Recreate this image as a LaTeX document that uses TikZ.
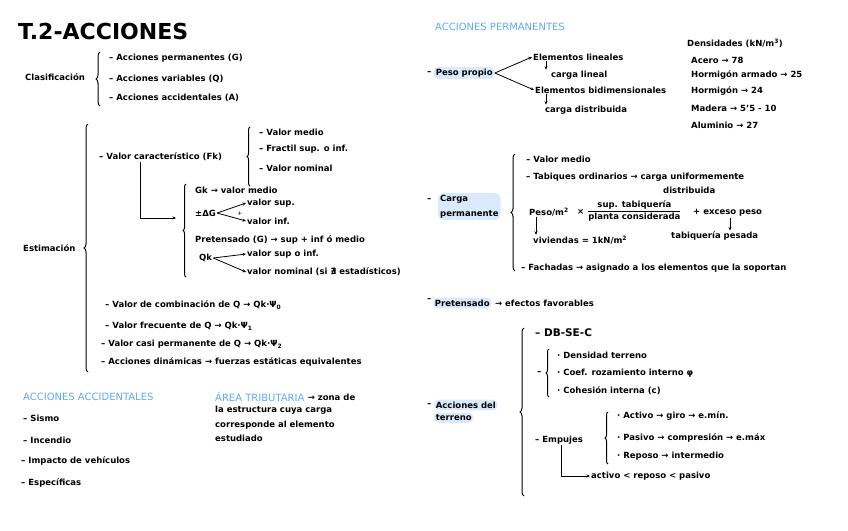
\documentclass[tikz,border=0pt]{standalone}
\usepackage{fontspec}
\usepackage{amsmath}
\setmainfont{DejaVu Sans}
\usetikzlibrary{positioning,decorations.pathreplacing,arrows.meta}

\definecolor{headblue}{RGB}{95,170,245}
\definecolor{hlblue}{RGB}{218,234,252}
\newcommand{\notefont}{\fontsize{8.5}{14.5}\selectfont\bfseries}

\tikzset{
    txt/.style={anchor=west, inner sep=1pt, font=\notefont},
    head/.style={anchor=west, inner sep=1pt, text=headblue, font=\fontsize{10}{12}\selectfont},
    hlbox/.style={anchor=west, fill=hlblue, rounded corners=5pt, inner sep=2pt, font=\notefont, align=left},
    arr/.style={-{Stealth[length=3.5pt,width=3pt]}, line width=0.8pt},
    brc/.style={decorate, decoration={brace, amplitude=4pt}, line width=1pt}
}

\begin{document}
\begin{tikzpicture}[x=1pt,y=-1pt]
        \useasboundingbox (0,0) rectangle (848,530);

        % Title
        \node[anchor=west, inner sep=0pt, font=\fontsize{22}{26}\selectfont\bfseries] (title) at (18,31) {T.2-ACCIONES};

        % Clasificacion
        \node[txt] (clas) at (24,77) {Clasificación};
        \draw[brc] (100,106) -- (100,52);
        \node[txt] (ap) at (108,58) {– Acciones permanentes (G)};
        \node[txt] (av) at (108,79) {– Acciones variables (Q)};
        \node[txt] (aa) at (108,98) {– Acciones accidentales (A)};

        % Estimacion
        \node[txt] (est) at (22,248) {Estimación};
        \draw[brc] (88,372) -- (88,124);
        \node[txt] (vc) at (98,157) {– Valor característico (Fk)};
        \draw[brc, decoration={amplitude=3pt}] (250,186) -- (250,127);
        \node[txt] (vm) at (258,132) {– Valor medio};
        \node[txt] (fr) at (258,149) {– Fractil sup. o inf.};
        \node[txt] (vn) at (258,168) {– Valor nominal};

        % Bloque Gk / Qk
        \coordinate (elb) at (176,218);
        \draw[arr] ([xshift=42pt]vc.south west) |- (elb);
        \draw[brc, decoration={amplitude=3pt}] (186,277) -- (186,184);
        \node[txt] (gk) at (194,190) {Gk → valor medio};
        \node[txt] (dg) at (194,213) {±ΔG};
        \node[txt] (vsup) at (246,203) {valor sup.};
        \node[txt] (vinf) at (246,221) {valor inf.};
        \draw[arr] (dg.east) -- (vsup.west);
        \draw[arr] (dg.east) -- (vinf.west);
        \node[anchor=center, inner sep=0pt, font=\fontsize{6}{6}\selectfont] (plus) at (240,214) {+};
        \node[txt] (pre) at (194,240) {Pretensado (G) → sup + inf ó medio};
        \node[txt] (qk) at (198,258) {Qk};
        \node[txt] (vsi) at (246,254) {valor sup o inf.};
        \node[txt] (vnom) at (246,272) {valor nominal (si ∄ estadísticos)};
        \draw[arr] (qk.east) -- (vsi.west);
        \draw[arr] (qk.east) -- (vnom.west);

        % Valores de Q
        \node[txt] (vcomb) at (104,305) {– Valor de combinación de Q → Qk·Ψ\textsubscript{0}};
        \node[txt] (vfre) at (104,326) {– Valor frecuente de Q → Qk·Ψ\textsubscript{1}};
        \node[txt] (vcasi) at (100,344) {– Valor casi permanente de Q → Qk·Ψ\textsubscript{2}};
        \node[txt] (vdin) at (100,362) {– Acciones dinámicas → fuerzas estáticas equivalentes};

        % Acciones accidentales
        \node[head] (hacc) at (22,397) {ACCIONES ACCIDENTALES};
        \node[txt] (sis) at (22,418) {– Sismo};
        \node[txt] (inc) at (22,440) {– Incendio};
        \node[txt] (imp) at (20,461) {– Impacto de vehículos};
        \node[txt] (esp) at (20,483) {– Específicas};

        % Area tributaria
        \node[head] (harea) at (214,397) {ÁREA TRIBUTARIA};
        \node[txt, right=1pt of harea] (zona) {→ zona de};
        \node[txt, align=left, anchor=north west] (zdef) at (214,405) {la estructura cuya carga\\corresponde al elemento\\estudiado};

        % Acciones permanentes
        \node[head] (hperm) at (434,27) {ACCIONES PERMANENTES};
        \node[txt] (ppd) at (426,73) {–};
        \node[hlbox, right=1pt of ppd] (pp) {Peso propio};
        \node[txt] (el1) at (532,57) {Elementos lineales};
        \node[txt] (cl) at (550,75) {carga lineal};
        \node[txt] (el2) at (534,90) {Elementos bidimensionales};
        \node[txt] (cd) at (544,110) {carga distribuida};
        \draw[arr] (pp.east) -- (el1.west);
        \draw[arr] (pp.east) -- (el2.west);
        \draw[arr] ([xshift=14pt]el1.south west) -- ([xshift=-4pt]cl.north west);
        \draw[arr] ([xshift=12pt]el2.south west) -- ([xshift=2pt]cd.north west);

        % Densidades
        \node[txt] (dens) at (686,43) {Densidades (kN/m\textsuperscript{3})};
        \node[txt] (acero) at (690,60) {Acero → 78};
        \node[txt] (ha) at (690,75) {Hormigón armado → 25};
        \node[txt] (hor) at (690,91) {Hormigón → 24};
        \node[txt] (mad) at (690,108) {Madera → 5'5 - 10};
        \node[txt] (alu) at (690,125) {Aluminio → 27};

        % Carga permanente
        \node[txt] (cpd) at (426,200) {–};
        \node[hlbox, anchor=north west] (cp) at (438,193) {Carga\\permanente};
        \draw[brc] (515,271) -- (515,154);
        \node[txt] (cvm) at (525,159) {– Valor medio};
        \node[txt] (tab) at (525,177) {– Tabiques ordinarios → carga uniformemente};
        \node[txt] (tdis) at (662,190) {distribuida};
        \node[txt] (pm) at (528,212) {Peso/m\textsuperscript{2}};
        \node[txt] (times) at (576,212) {×};
        \node[txt] (frac) at (586,211) {$\dfrac{\text{sup. tabiquería}}{\text{planta considerada}}$};
        \node[txt] (exc) at (692,213) {+ exceso peso};
        \node[txt] (viv) at (532,240) {viviendas = 1kN/m\textsuperscript{2}};
        \node[txt] (tp) at (670,236) {tabiquería pesada};
        \draw[arr] ([xshift=8pt]pm.south west) -- ([xshift=4pt]viv.north west);
        \draw[arr] ([xshift=38pt]exc.south west) -- ([xshift=60pt]tp.north west);
        \node[txt] (fach) at (520,268) {– Fachadas → asignado a los elementos que la soportan};

        % Pretensado
        \node[txt] (ptd) at (426,300) {–};
        \node[hlbox, right=0pt of ptd, yshift=-3pt] (pt) {Pretensado};
        \node[txt, right=2pt of pt] (efe) {→ efectos favorables};

        % Acciones del terreno
        \node[txt] (atd) at (426,405) {–};
        \node[hlbox, right=1pt of atd] (at1) {Acciones del};
        \node[hlbox, anchor=north west] (at2) at ([yshift=-2pt]at1.south west) {terreno};
        \draw[brc] (524,496) -- (524,328);
        \node[txt, font=\fontsize{10.5}{12}\selectfont\bfseries] (db) at (534,333) {– DB-SE-C};
        \node[txt] (terd) at (536,373) {–};
        \draw[brc, decoration={amplitude=3pt}] (549,397) -- (549,349);
        \node[txt] (dter) at (556,355) {· Densidad terreno};
        \node[txt] (coef) at (556,373) {· Coef. rozamiento interno φ};
        \node[txt] (coh) at (556,391) {· Cohesión interna (c)};
        \node[txt] (emp) at (534,440) {– Empujes};
        \draw[brc, decoration={amplitude=3pt}] (608,464) -- (608,412);
        \node[txt] (act) at (616,416) {· Activo → giro → e.mín.};
        \node[txt] (pas) at (616,438) {· Pasivo → compresión → e.máx};
        \node[txt] (rep) at (616,456) {· Reposo → intermedio};
        \node[txt] (ord) at (590,476) {activo < reposo < pasivo};
        \draw[arr] ([xshift=27pt]emp.south west) |- (ord.west);
    \end{tikzpicture}
\end{document}
